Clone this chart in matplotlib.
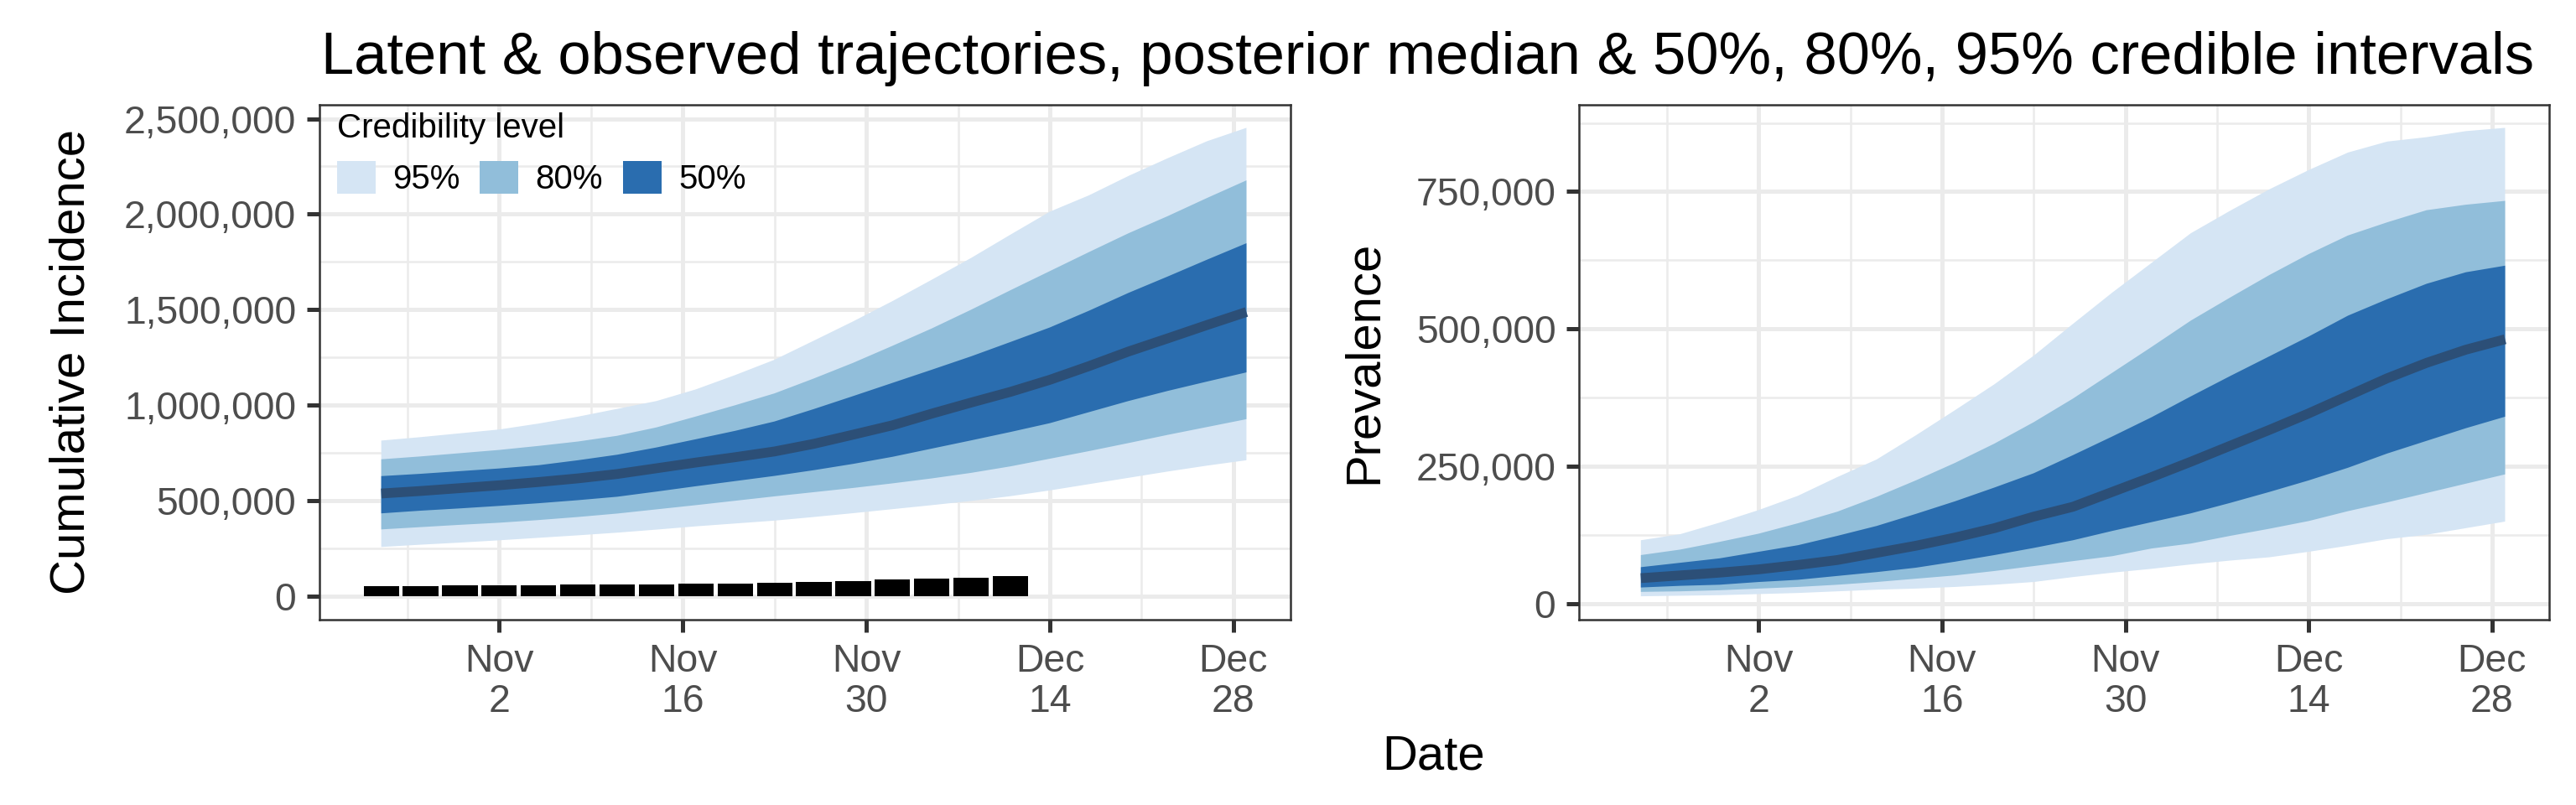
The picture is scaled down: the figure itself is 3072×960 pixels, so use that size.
import numpy as np
import matplotlib
matplotlib.use("Agg")
import matplotlib.pyplot as plt
import matplotlib.dates as mdates
from matplotlib.patches import Patch
from matplotlib.ticker import FuncFormatter, FixedLocator

plt.rcParams['font.family'] = ['Liberation Sans', 'DejaVu Sans']

# ---------------- data ----------------
dates = ["2020-10-24", "2020-10-27", "2020-10-30", "2020-11-02", "2020-11-05",
         "2020-11-08", "2020-11-11", "2020-11-14", "2020-11-17", "2020-11-20",
         "2020-11-23", "2020-11-26", "2020-11-29", "2020-12-02", "2020-12-05",
         "2020-12-08", "2020-12-11", "2020-12-14", "2020-12-17", "2020-12-20",
         "2020-12-23", "2020-12-26", "2020-12-29"]
obs_dates = dates[:17]

# Cumulative incidence (thousands)
ci_lo95 = [258, 270, 281, 293, 306, 319, 333, 349, 366, 381, 396, 415, 435, 456, 477, 499, 524, 554, 587, 620, 653, 684, 712]
ci_lo80 = [350, 362, 374, 385, 399, 415, 433, 455, 477, 500, 523, 545, 567, 591, 617, 646, 680, 720, 760, 802, 845, 886, 927]
ci_lo50 = [434, 448, 460, 473, 487, 503, 521, 548, 576, 603, 630, 660, 693, 730, 773, 816, 860, 906, 964, 1022, 1075, 1124, 1172]
ci_med = [538, 551, 566, 581, 598, 617, 640, 670, 700, 728, 758, 798, 846, 895, 956, 1014, 1070, 1133, 1205, 1281, 1350, 1420, 1488]
ci_hi50 = [629, 641, 655, 669, 686, 712, 741, 779, 822, 866, 915, 980, 1048, 1117, 1186, 1256, 1331, 1407, 1495, 1588, 1674, 1762, 1848]
ci_hi80 = [717, 732, 749, 766, 787, 810, 840, 884, 941, 1000, 1062, 1140, 1222, 1311, 1402, 1500, 1602, 1702, 1802, 1900, 1990, 2085, 2177]
ci_hi95 = [815, 833, 853, 873, 904, 940, 981, 1022, 1083, 1158, 1238, 1338, 1439, 1545, 1657, 1771, 1893, 2013, 2099, 2200, 2293, 2382, 2452]
observed = [55, 55, 56, 57, 59, 60, 61, 63, 64, 68, 72, 76, 80, 86, 93, 98, 105]

# Prevalence (thousands)
pv_lo95 = [13, 14, 15, 17, 19, 22, 25, 27, 30, 34, 39, 48, 56, 63, 71, 78, 84, 94, 105, 117, 125, 137, 149]
pv_lo80 = [21, 22, 24, 27, 30, 34, 39, 45, 51, 59, 68, 77, 86, 100, 109, 123, 136, 150, 168, 184, 201, 218, 235]
pv_lo50 = [29, 32, 34, 39, 43, 50, 57, 65, 76, 88, 101, 115, 132, 148, 164, 183, 203, 224, 247, 273, 296, 319, 340]
pv_med = [46, 51, 56, 62, 70, 79, 92, 105, 120, 137, 158, 176, 203, 230, 258, 287, 316, 346, 378, 410, 438, 462, 481]
pv_hi50 = [66, 74, 82, 94, 106, 123, 141, 163, 186, 211, 237, 270, 304, 339, 377, 414, 450, 486, 524, 554, 582, 603, 615]
pv_hi80 = [88, 98, 112, 127, 146, 167, 194, 224, 256, 291, 330, 373, 420, 467, 515, 557, 598, 636, 670, 694, 716, 726, 733]
pv_hi95 = [115, 126, 147, 170, 196, 230, 262, 306, 352, 399, 451, 509, 566, 620, 674, 715, 754, 789, 821, 841, 849, 860, 866]

levels = ["95%", "80%", "50%"]
x_tick_dates = ["2020-11-02", "2020-11-16", "2020-11-30", "2020-12-14", "2020-12-28"]
x_tick_labels = ["Nov\n2", "Nov\n16", "Nov\n30", "Dec\n14", "Dec\n28"]
x_minor_dates = ["2020-10-19", "2020-10-26", "2020-11-09", "2020-11-23", "2020-12-07", "2020-12-21", "2021-01-04"]
ci_yticks = [0, 500000, 1000000, 1500000, 2000000, 2500000]
ci_yminor = [250000, 750000, 1250000, 1750000, 2250000]
pv_yticks = [0, 250000, 500000, 750000]
pv_yminor = [125000, 375000, 625000, 875000]

title = "Latent & observed trajectories, posterior median & 50%, 80%, 95% credible intervals"

# ---------------- style ----------------
c95, c80, c50 = "#D5E5F4", "#91BEDA", "#2A6DAF"
cmed = "#2C4F77"
grid_c = "#EBEBEB"
tick_fs = 16.7
lab_fs = 20.9

x = mdates.date2num(np.array(dates, dtype="datetime64[D]"))
xo = mdates.date2num(np.array(obs_dates, dtype="datetime64[D]"))
bar_w = 2.7

fig = plt.figure(figsize=(15.36, 4.8), dpi=200)
ax1 = fig.add_axes([0.1240, 0.2302, 0.3770, 0.6401])
ax2 = fig.add_axes([0.6130, 0.2302, 0.3766, 0.6401])

def k(v):
    return np.array(v, dtype=float) * 1000.0

def draw_bands(ax, lo95, hi95, lo80, hi80, lo50, hi50, med):
    ax.fill_between(x, k(lo95), k(hi95), facecolor=c95, edgecolor="none", lw=0, zorder=2)
    ax.fill_between(x, k(lo80), k(hi80), facecolor=c80, edgecolor="none", lw=0, zorder=3)
    ax.fill_between(x, k(lo50), k(hi50), facecolor=c50, edgecolor="none", lw=0, zorder=4)
    ax.plot(x, k(med), color=cmed, lw=4.2, solid_capstyle="butt", zorder=5)

draw_bands(ax1, ci_lo95, ci_hi95, ci_lo80, ci_hi80, ci_lo50, ci_hi50, ci_med)
ax1.bar(xo, k(observed), width=bar_w, color="black", edgecolor="none", zorder=3)
draw_bands(ax2, pv_lo95, pv_hi95, pv_lo80, pv_hi80, pv_lo50, pv_hi50, pv_med)

# x range like ggplot (5% expansion of the data range)
xmin = min(xo.min() - bar_w / 2, x.min())
xmax = x.max()
span = xmax - xmin
xl = (xmin - 0.05 * span, xmax + 0.05 * span)

def yr(lo, hi):
    s = hi - lo
    return (lo - 0.05 * s, hi + 0.05 * s)

ax1.set_ylim(*yr(0.0, k(ci_hi95).max()))
ax2.set_ylim(*yr(k(pv_lo95).min(), k(pv_hi95).max()))

fmt = FuncFormatter(lambda v, p: f"{v:,.0f}")
tick_x = mdates.date2num(np.array(x_tick_dates, dtype="datetime64[D]"))
minor_x = mdates.date2num(np.array(x_minor_dates, dtype="datetime64[D]"))

for ax, yt, ym in [(ax1, ci_yticks, ci_yminor), (ax2, pv_yticks, pv_yminor)]:
    ax.set_xlim(*xl)
    ax.xaxis.set_major_locator(FixedLocator(tick_x))
    ax.xaxis.set_minor_locator(FixedLocator(minor_x))
    ax.set_xticklabels(x_tick_labels)
    ax.yaxis.set_major_locator(FixedLocator(yt))
    ax.yaxis.set_minor_locator(FixedLocator(ym))
    ax.yaxis.set_major_formatter(fmt)
    ax.set_axisbelow(True)
    ax.grid(which="major", color=grid_c, lw=1.8, zorder=0)
    ax.grid(which="minor", color=grid_c, lw=0.9, zorder=0)
    ax.tick_params(which="major", length=5.4, width=1.8, color="#333333",
                   labelsize=tick_fs, labelcolor="#4D4D4D", pad=4.6)
    ax.tick_params(which="minor", length=0)
    for sp in ax.spines.values():
        sp.set_color("#333333")
        sp.set_linewidth(0.9)
        sp.set_zorder(10)
    for t in ax.get_xticklabels():
        t.set_linespacing(1.13)

ax1.set_ylabel("Cumulative Incidence", fontsize=lab_fs, color="black")
ax1.yaxis.set_label_coords(-0.232, 0.5)
ax2.set_ylabel("Prevalence", fontsize=lab_fs, color="black")
ax2.yaxis.set_label_coords(-0.198, 0.5)

handles = [Patch(facecolor=c, edgecolor="none", label=l) for c, l in zip([c95, c80, c50], levels)]
leg = ax1.legend(handles=handles, title="Credibility level", ncol=3, loc="upper left",
                 bbox_to_anchor=(0.018, 0.985), frameon=False, fontsize=14.5,
                 title_fontsize=14.5, handlelength=1.14, handleheight=1.12,
                 handletextpad=0.5, columnspacing=0.6, borderpad=0, borderaxespad=0,
                 alignment="left")
leg.set_zorder(20)

fig.text(0.1247, 0.9083, title, fontsize=25.4, ha="left", va="baseline")
fig.text(0.5566, 0.04375, "Date", fontsize=lab_fs, ha="center", va="baseline")

fig.savefig("out.png", dpi=200)
